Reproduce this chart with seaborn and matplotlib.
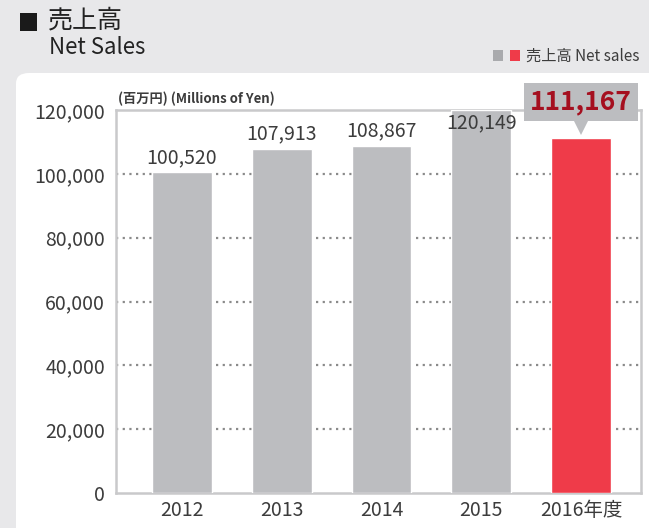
import matplotlib
matplotlib.use("Agg")
import matplotlib.pyplot as plt
import seaborn as sns
import pandas as pd
from matplotlib.patches import FancyBboxPatch, Rectangle

# data
years = ["2012", "2013", "2014", "2015", "2016年度"]
sales = [100520, 107913, 108867, 120149, 111167]
yticks = [0, 20000, 40000, 60000, 80000, 100000, 120000]

gray = "#bcbdc0"
red = "#ef3b49"
dark = "#3c3c3c"

sns.set_theme(style="white")
fam = ["Noto Sans CJK JP", "DejaVu Sans"]
plt.rcParams["font.family"] = fam

df = pd.DataFrame({"year": years, "sales": sales})
df["kind"] = ["past"] * 4 + ["now"]

fig = plt.figure(figsize=(6.49, 5.28), dpi=100)
fig.patch.set_facecolor("#e8e8ea")

# white panel behind chart
panel = FancyBboxPatch((16 / 649, -0.1), 1.0, 1 - 73 / 528 + 0.1,
                       boxstyle="round,pad=0,rounding_size=0.02",
                       transform=fig.transFigure, fc="white", ec="none", zorder=-1)
fig.patches.append(panel)

ax = fig.add_axes([116 / 649, 1 - 493 / 528, (641 - 116) / 649, (493 - 110) / 528])
ax.set_zorder(2)
ax.set_facecolor("white")

sns.barplot(data=df, x="year", y="sales", hue="kind", palette={"past": gray, "now": red},
            width=0.6, dodge=False, legend=False, ax=ax, zorder=3, saturation=1)

ax.set_ylim(0, 120000)
ax.set_xlim(-0.66, 4.6)
ax.set_yticks(yticks)
ax.set_yticklabels([f"{v:,}" for v in yticks], fontsize=14, color=dark)
ax.tick_params(axis="x", labelsize=14, colors=dark, length=0, pad=5)
ax.tick_params(axis="y", length=0, pad=8)
ax.set_xlabel("")
ax.set_ylabel("")

for y in yticks[1:-1]:
    ax.axhline(y, color="#8a8a8a", lw=1.6, ls=(0, (1, 2)), zorder=1)

for s in ax.spines.values():
    s.set_color("#c9c9cb")
    s.set_linewidth(1.8)

# value labels for past years
for i, v in enumerate(sales[:-1]):
    ax.annotate(f"{v:,}", (i, min(v, 111500)), xytext=(0, 3), textcoords="offset points",
                ha="center", va="bottom", fontsize=14, color=dark, zorder=5)

# callout for latest year
i = len(sales) - 1
tri = ax.transData + matplotlib.transforms.ScaledTranslation(0, 7 / 72, fig.dpi_scale_trans)
ax.plot([i], [sales[i]], marker="v", ms=10, color=gray, transform=tri,
        clip_on=False, zorder=6, markeredgewidth=0)
ax.annotate(f"{sales[i]:,}", (i, sales[i]), xytext=(0, 26), textcoords="offset points",
            ha="center", va="center", fontsize=19, fontweight="bold", color="#a50f1f",
            bbox=dict(boxstyle="square,pad=0.22", fc=gray, ec="none"),
            annotation_clip=False, zorder=7)

# unit label
fig.text(118 / 649, 1 - 99 / 528, "(百万円) (Millions of Yen)", fontsize=9.5,
         fontweight="bold", color=dark, va="center")

# titles
fig.patches.append(Rectangle((20 / 649, 1 - 31 / 528), 17 / 649, 18 / 528,
                             transform=fig.transFigure, fc="#1a1a1a", ec="none"))
fig.text(48 / 649, 1 - 20 / 528, "売上高", fontsize=18, color="#222222", va="center")
fig.text(49 / 649, 1 - 47 / 528, "Net Sales", fontsize=16, color="#222222", va="center")

# legend
fig.patches.append(Rectangle((493 / 649, 1 - 61 / 528), 10 / 649, 11 / 528,
                             transform=fig.transFigure, fc="#a9aaad", ec="none"))
fig.patches.append(Rectangle((510 / 649, 1 - 61 / 528), 10 / 649, 11 / 528,
                             transform=fig.transFigure, fc=red, ec="none"))
fig.text(526 / 649, 1 - 56 / 528, "売上高 Net sales", fontsize=11, color=dark, va="center")

fig.savefig("out.png", dpi=100, facecolor=fig.get_facecolor())
